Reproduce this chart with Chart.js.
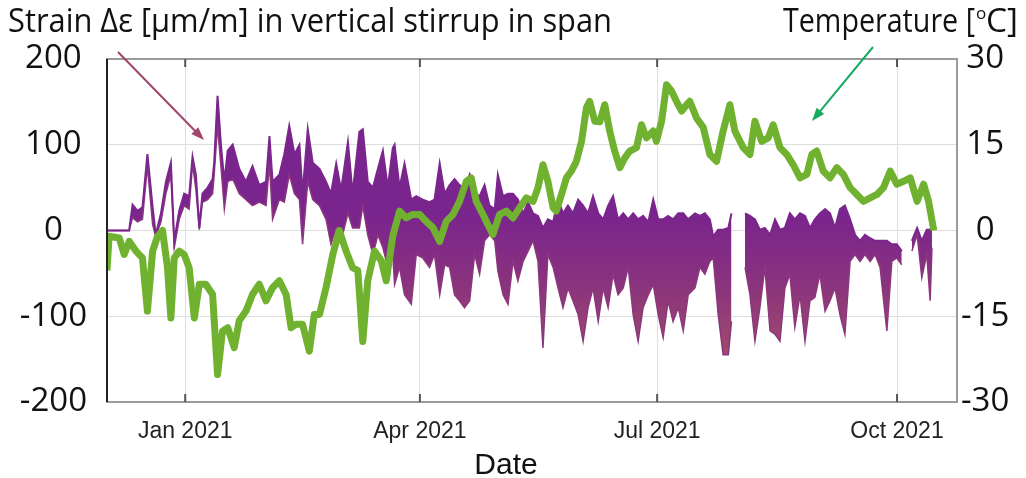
<!DOCTYPE html>
<html>
<head>
<meta charset="utf-8">
<script src="https://cdn.jsdelivr.net/npm/chart.js@4.4.0/dist/chart.umd.min.js"></script>
<style>
  body { margin: 0; background: #fff; }
  #wrap { width: 1026px; height: 478px; }
</style>
</head>
<body>
<div id="wrap"><canvas id="chart" width="1026" height="478"></canvas></div>
<script>
// x values are days counted from 1 Jan 2021
const monthTicks = [0, 90, 181, 273];
const monthLabels = ["Jan 2021", "Apr 2021", "Jul 2021", "Oct 2021"];

// strain band (upper / lower envelope of the scatter), µm/m
const strainDay = [-30, -21.5, -20.2, -18.3, -16.4, -14.5, -12.5, -11.3, -9.3, -7.4, -5.5, -4.2, -2.3, -0.4,
  1.5, 2.8, 4.1, 5.4, 6.6, 8.6, 10.5, 11.1, 12.4, 13.7, 15, 16.3, 18.2, 20.7, 23.3, 25.8, 28.4, 31, 32.3,
  33.5, 36.1, 38, 39.9, 41.9, 43.8, 45, 47, 48.9, 51.5, 54, 55.9, 57.9, 59.8, 62.4, 64.2, 66.8, 68.1, 70,
  72, 73.9, 75.8, 77.7, 79.6, 80.3, 82.2, 84.1, 86.7, 88.6, 91.1, 93.7, 95.6, 97.6, 99.5, 101.4, 103.3,
  105.2, 107.1, 109.1, 111, 112.9, 114.8, 116.7, 118.7, 119.9, 121.9, 123.8, 125.7, 127.6, 129.6, 131.5,
  133.4, 135.3, 137.2, 139.1, 141.1, 143, 144.9, 146.8, 148.7, 150.7, 152.6, 154.5, 156.4, 158.4, 160.3,
  162.2, 164.1, 166, 168, 169.9, 171.8, 173.7, 175.6, 177.6, 179.5, 181.4, 183.3, 185.2, 187.1, 189.1,
  191, 192.9, 195.5, 197.4, 199.3, 201.2, 202.5, 204.4, 206.3, 208.3, 209.5, 210.5, 214.7, 216.6, 218.5,
  220.4, 222.3, 224.3, 226.2, 228.1, 230, 231.9, 233.8, 235.8, 237.7, 239.6, 241.5, 243.4, 245.4, 247.3,
  249.2, 251.1, 253, 255, 256.9, 258.8, 260.7, 262.7, 264.6, 266.5, 269.1, 271, 272.9, 274.8, 276, 278.7,
  280.7, 282.5, 284.4, 285.7, 286.4];
const strainHigh = [0, 0, 30, 23, 27, 89, 27, -5, 20, 57, 79, -12, 23, 43,
  40, 86, 65, 3, 43, 50, 60, 79, 157, 100, 57, 93, 100, 72, 57, 75, 53, 57, 110,
  57, 65, 89, 122, 89, 100, 43, 118, 79, 72, 57, 43, 78, 47, 103, 43, 115, 118, 57,
  50, 72, 93, 50, 96, 100, 50, 78, 36, 40, 36, 33, 36, 78, 43, 53, 60,
  53, 50, 65, 43, 40, 53, 29, 25, 65, 40, 43, 43, 36, 20, 33,
  20, 17, 3, 13, 10, 36, 20, 29, 20, 36, 29, 20, 40, 20, 13,
  29, 40, 13, 20, 13, 20, 13, 17, 10, 36, 13, 13, 17, 13, 20,
  20, 13, 20, 17, 20, 13, -7, 1, 1, 3, 20, null, 20, 17, 13,
  1, 3, -5, 13, 1, 3, 20, 13, 20, 17, 3, 13, 20, 25, 20,
  3, 25, 29, 13, -5, -12, -5, -9, -12, -12, -12, -16, -16, -24, null, -12,
  3, -12, 1, 1, 5];
const strainLow = [0, 0, 15, 10, 13, 75, 7, -7, 10, 43, 65, -20, 13, 29,
  25, 78, 48, 1, 33, 36, 43, 65, 122, 75, 25, 57, 60, 43, 36, 29, 33, 29, 78,
  13, 36, 33, 65, 43, 36, -16, 57, 36, 29, 13, -16, 3, -12, 20, 3, 3, 29, -5,
  -28, -5, -20, -43, -28, -63, -43, -75, -86, -28, -32, -43, -28, -75, -40, -43, -75,
  -82, -90, -82, -28, -51, -12, -5, -12, -47, -75, -86, -36, -59, -36, -24,
  -12, -36, -137, -28, -43, -67, -90, -67, -82, -98, -129, -90, -67, -106, -67,
  -90, -51, -75, -67, -43, -98, -129, -90, -75, -63, -98, -125, -82, -106, -90,
  -117, -75, -67, -43, -51, -36, -32, -98, -145, -145, -106, null, -43, -75, -129,
  -90, -43, -117, -121, -129, -67, -51, -113, -75, -129, -82, -78, -51, -94, -82,
  -67, -98, -121, -36, -28, -36, -28, -36, -28, -43, -117, -36, -32, -40, null, -24,
  -5, -55, -28, -82, -20];

// temperature, °C
const tempDay = [-30, -29.2, -25.3, -23.4, -21.5, -18.9, -16.4, -14.5, -12.5, -10.6, -8.7, -6.8, -5.5, -4.2,
  -2.3, -0.4, 1.5, 3.5, 5.4, 7.9, 10.5, 12.4, 14.3, 16.3, 18.8, 20.7, 23.3, 25.8, 28.4, 31, 33.5, 36.1,
  38.7, 40.6, 42.5, 45, 47.6, 49.5, 51.5, 54, 56.6, 59.1, 61.7, 64.2, 66.2, 68.1, 70, 72.6, 75.2, 77.1,
  79.6, 82.2, 84.7, 87.3, 89.9, 92.4, 95, 97.6, 100.1, 102.7, 105.2, 107.8, 109.7, 111.6, 114.2, 116.1,
  118, 120.6, 123.2, 125.7, 128.3, 130.8, 133.4, 135.3, 137.2, 139.1, 141.1, 142.3, 144.3, 146.2, 148.1,
  150, 152, 153.9, 155.1, 157.1, 159, 160.9, 162.8, 164.7, 166.7, 168.6, 170.5, 173.1, 175, 176.9, 179.5,
  180.7, 182.7, 184.6, 186.5, 188.4, 190.4, 192.3, 193.5, 196.1, 198.7, 201.2, 203.8, 206.3, 208.9,
  210.8, 214, 216.6, 218.5, 221.1, 223.6, 225.5, 228.1, 230.7, 233.2, 235.8, 238.4, 240.3, 242.2, 244.7,
  247.3, 249.9, 252.4, 255, 257.6, 260.1, 262.7, 265.3, 267.8, 270.4, 272.9, 275.5, 278.1, 280.7, 283.2,
  285.1, 287.1];
const tempC = [-7, -1, -1.3, -4.2, -1.9, -3.6, -4.8, -14.1, -3.6, -1, 0, -6.5, -15.3, -4.8,
  -3.6, -4.2, -6.5, -15.3, -9.4, -9.4, -11.2, -25.2, -17.6, -17, -20.5, -15.8, -14.1, -11.2, -9.4, -12.3, -10, -8.8,
  -11.2, -17, -16.4, -16.4, -21.1, -14.7, -14.7, -10, -4.2, 0, -3.6, -6.5, -7, -19.4, -8.8, -3.6, -5.3, -8.8,
  -1, 3.4, 2.2, 2.8, 2.8, 1.6, 0.5, -1.9, 1.6, 2.8, 5.1, 8.6, 9.2, 5.1, 2.8, 1.0,
  -0.7, 2.8, 3.4, 2.2, 4.0, 5.7, 5.1, 7.5, 11.5, 8.6, 4.0, 3.4, 6.3, 9.2, 10.4,
  12.1, 15.6, 21.5, 22.6, 19.1, 19, 22, 17.4, 13.9, 11, 12.7, 13.9, 14.5, 18.5, 16.2, 17.4,
  15.6, 19.1, 25.5, 24.4, 22.6, 20.9, 22, 22.6, 19.7, 18, 13.3, 12.1, 17.4, 22,
  17.4, 14.5, 13.3, 19.1, 15.6, 16.2, 18.5, 14.5, 13.3, 11.5, 9.2, 9.8, 13.3, 13.9, 10.4,
  9.2, 11, 9.8, 7.5, 6.3, 5.1, 5.7, 6.3, 7.5, 10.4, 8.1, 8.6, 9.2, 5.1, 8.1,
  5.1, 0];

const toXY = (xs, ys) => xs.map((x, i) => ({ x: x, y: ys[i] }));

const PURPLE = "rgb(122,38,140)";
const GREEN = "rgb(112,178,48)";
const FRAME = "#9a9a9a";
const SANS = "'Open Sans', sans-serif";
const NARROW = "'Liberation Sans Narrow', 'Liberation Sans', sans-serif";

// band fill: purple at the top, a bit more muted down in the spikes
function bandFill(context) {
  const { ctx, chartArea, scales } = context.chart;
  if (!chartArea) return PURPLE;
  const g = ctx.createLinearGradient(0, scales.y.getPixelForValue(20), 0, scales.y.getPixelForValue(-140));
  g.addColorStop(0, "rgb(122,36,142)");
  g.addColorStop(0.5, "rgb(137,50,126)");
  g.addColorStop(1, "rgb(158,74,108)");
  return g;
}

// draw a text squeezed to a given width (the picture is a bit stretched)
function fitText(ctx, text, x, y, width) {
  const w = ctx.measureText(text).width;
  ctx.save();
  ctx.translate(x, y);
  ctx.scale(width / w, 1);
  ctx.fillText(text, 0, 0);
  ctx.restore();
}

function drawArrow(ctx, x1, y1, x2, y2, color) {
  const ang = Math.atan2(y2 - y1, x2 - x1);
  const len = 14;
  ctx.strokeStyle = color;
  ctx.fillStyle = color;
  ctx.lineWidth = 2;
  ctx.beginPath();
  ctx.moveTo(x1, y1);
  ctx.lineTo(x2 - Math.cos(ang) * 6, y2 - Math.sin(ang) * 6);
  ctx.stroke();
  ctx.beginPath();
  ctx.moveTo(x2, y2);
  ctx.lineTo(x2 - len * Math.cos(ang - 0.35), y2 - len * Math.sin(ang - 0.35));
  ctx.lineTo(x2 - len * Math.cos(ang + 0.35), y2 - len * Math.sin(ang + 0.35));
  ctx.closePath();
  ctx.fill();
}

// frame, tick marks, titles and arrows
const decorations = {
  id: "decorations",
  afterDraw(chart) {
    const { ctx, chartArea: a, scales } = chart;
    ctx.save();
    ctx.strokeStyle = FRAME;
    ctx.lineWidth = 2;
    ctx.strokeRect(a.left, a.top, a.right - a.left, a.bottom - a.top);
    ctx.strokeStyle = "#222";
    ctx.beginPath();
    ctx.moveTo(a.left, a.top);
    ctx.lineTo(a.left, a.bottom);
    ctx.stroke();
    ctx.strokeStyle = "#555";
    monthTicks.forEach((v) => {
      const px = scales.x.getPixelForValue(v);
      ctx.beginPath();
      ctx.moveTo(px, a.top); ctx.lineTo(px, a.top + 8);
      ctx.moveTo(px, a.bottom); ctx.lineTo(px, a.bottom - 8);
      ctx.stroke();
    });

    ctx.fillStyle = "#111";
    ctx.textBaseline = "alphabetic";
    ctx.textAlign = "left";
    ctx.font = "33px " + SANS;
    fitText(ctx, "Strain \u0394\u03B5 [\u03BCm/m] in vertical stirrup in span", 8, 32, 604);
    fitText(ctx, "Temperature [", 783, 32, 192);
    ctx.font = "17px " + SANS;
    ctx.fillText("o", 976, 19);
    ctx.font = "33px " + SANS;
    fitText(ctx, "C]", 986, 32, 32);

    ctx.font = "30px " + NARROW;
    ctx.textAlign = "center";
    ctx.fillText("Date", 506, 474);

    drawArrow(ctx, 118, 52, 204, 140, "rgb(160,70,110)");
    drawArrow(ctx, 873, 47, 812, 121, "rgb(24,170,95)");
    ctx.restore();
  }
};

new Chart(document.getElementById("chart"), {
  type: "line",
  data: {
    datasets: [
      {
        label: "Temperature",
        data: toXY(tempDay, tempC),
        yAxisID: "y1",
        borderColor: GREEN,
        borderWidth: 7,
        borderJoinStyle: "round",
        pointRadius: 0,
        fill: false,
      },
      {
        label: "Strain high",
        data: toXY(strainDay, strainHigh),
        yAxisID: "y",
        borderColor: PURPLE,
        borderWidth: 2,
        pointRadius: 0,
        fill: false,
      },
      {
        label: "Strain low",
        data: toXY(strainDay, strainLow),
        yAxisID: "y",
        borderColor: "rgb(140,55,125)",
        borderWidth: 1.5,
        pointRadius: 0,
        backgroundColor: bandFill,
        fill: "-1",
      },
    ],
  },
  options: {
    responsive: false,
    animation: false,
    layout: { padding: { top: 59, left: 0, right: 0, bottom: 0 } },
    plugins: { legend: { display: false }, tooltip: { enabled: false } },
    scales: {
      x: {
        type: "linear",
        min: -30,
        max: 296,
        afterBuildTicks: (scale) => { scale.ticks = monthTicks.map((v) => ({ value: v })); },
        afterFit: (scale) => { scale.height = 76; },
        ticks: {
          callback: (v) => monthLabels[monthTicks.indexOf(v)],
          font: { family: NARROW, size: 23 },
          color: "#222",
          padding: 16,
          maxRotation: 0,
        },
        grid: { color: "#dedede", lineWidth: 1, drawTicks: false },
        border: { display: false },
      },
      y: {
        position: "left",
        min: -200,
        max: 200,
        afterFit: (scale) => { scale.width = 107; },
        ticks: {
          stepSize: 100,
          font: { family: SANS, size: 33 },
          color: "#111",
          padding: 20,
          crossAlign: "center",
        },
        grid: { color: "#dedede", lineWidth: 1, drawTicks: false },
        border: { display: false },
      },
      y1: {
        position: "right",
        min: -30,
        max: 30,
        afterFit: (scale) => { scale.width = 69; },
        ticks: {
          stepSize: 15,
          font: { family: SANS, size: 33 },
          color: "#111",
          padding: 4,
          crossAlign: "center",
        },
        grid: { display: false, drawTicks: false },
        border: { display: false },
      },
    },
  },
  plugins: [decorations],
});
</script>
</body>
</html>
